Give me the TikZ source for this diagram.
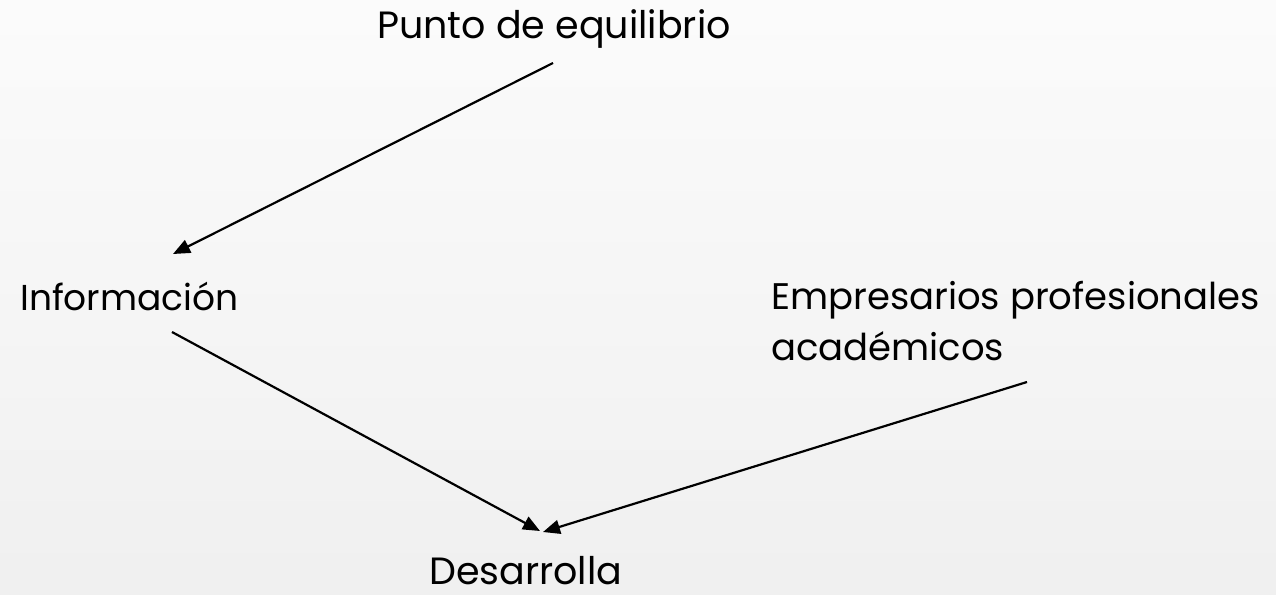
\documentclass[tikz,border=0pt]{standalone}
\usepackage{fontspec}
\setmainfont{Poppins}
\usetikzlibrary{arrows.meta}
\tikzset{
  lbl/.style={anchor=base west, inner sep=0pt, font=\fontsize{#1}{#1}\selectfont, text=black},
  lbl/.default=37,
  conn/.style={line width=2.2pt, draw=black, -{Triangle[length=17pt,width=14pt]}}
}
\begin{document}
\begin{tikzpicture}[x=1pt,y=-1pt]
\useasboundingbox (0,0) rectangle (1276,594);
\shade[top color=gray!3, bottom color=gray!12] (0,0) rectangle (1276,594);
\node[lbl=38] (punto) at (377,38) {Punto de equilibrio};
\node[lbl=36] (info) at (20,310) {Información};
\node[lbl=37] (emp) at (771,309) {Empresarios profesionales};
\node[lbl=37] (acad) at (771,360) {académicos};
\node[lbl=38] (des) at (429,584) {Desarrolla};
\coordinate (p1) at (553,63);
\coordinate (i1) at (173,254);
\coordinate (i2) at (172,332);
\coordinate (d1) at (540,531);
\coordinate (d2) at (543,532);
\coordinate (e1) at (1027,382);
\draw[conn] (p1) -- (i1);
\draw[conn] (i2) -- (d1);
\draw[conn] (e1) -- (d2);
\end{tikzpicture}
\end{document}
